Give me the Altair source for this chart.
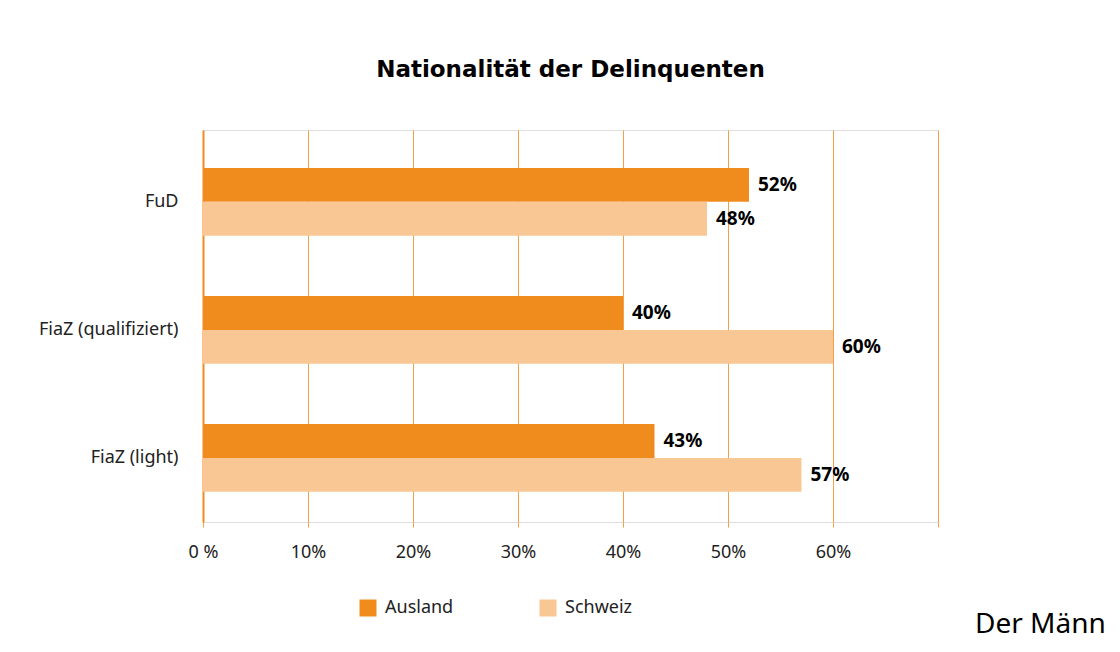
import altair as alt
import pandas as pd

categories = ["FuD", "FiaZ (qualifiziert)", "FiaZ (light)"]
series = ["Ausland", "Schweiz"]
ausland = [52, 40, 43]
schweiz = [48, 60, 57]
tick_values = [0, 10, 20, 30, 40, 50, 60, 70]
tick_labels = ["0 %", "10%", "20%", "30%", "40%", "50%", "60%", ""]
colors = ["#F08C1E", "#F9C794"]
title_text = "Nationalität der Delinquenten"
page_text = ["Der Männ"]

rows = []
for c, a, s in zip(categories, ausland, schweiz):
    rows.append({"Kategorie": c, "Herkunft": series[0], "Anteil": a, "Label": f"{a}%"})
    rows.append({"Kategorie": c, "Herkunft": series[1], "Anteil": s, "Label": f"{s}%"})
df = pd.DataFrame(rows)

label_expr = ""
for v, l in zip(tick_values, tick_labels):
    label_expr += f"datum.value == {v} ? '{l}' : "
label_expr += "''"

FONT = "Noto Sans"
GRID = "#F4A04A"

y_enc = alt.Y(
    "Kategorie:N",
    sort=categories,
    scale=alt.Scale(paddingInner=0.47, paddingOuter=0.266, align=0.557),
    axis=alt.Axis(
        title=None, domain=True, domainColor="#F08C1E", domainWidth=2,
        ticks=False, labelPadding=25, labelFontSize=18, labelFont=FONT,
        labelColor="#222222",
    ),
)
yoff_enc = alt.YOffset("Herkunft:N", sort=series,
                       scale=alt.Scale(paddingInner=0, paddingOuter=0))
x_enc = alt.X(
    "Anteil:Q",
    scale=alt.Scale(domain=[0, 70], nice=False),
    axis=alt.Axis(
        values=tick_values, labelExpr=label_expr, title=None, domain=False,
        grid=True, gridColor=GRID, gridWidth=1, tickColor=GRID, tickSize=5,
        labelPadding=16, labelFontSize=18, labelFont=FONT, labelColor="#222222",
        labelFlush=False,
    ),
)

base = alt.Chart(df)

bars = base.mark_bar().encode(
    x=x_enc,
    y=y_enc,
    yOffset=yoff_enc,
    color=alt.Color(
        "Herkunft:N",
        sort=series,
        scale=alt.Scale(domain=series, range=colors),
        legend=alt.Legend(
            title=None, orient="none", legendX=156, legendY=469,
            direction="horizontal", symbolType="square", symbolSize=289,
            symbolStrokeWidth=0, labelFontSize=18, labelFont=FONT,
            labelColor="#222222", columnPadding=85, labelOffset=8,
        ),
    ),
)

labels = base.mark_text(
    align="left", baseline="middle", dx=9, fontWeight="bold",
    fontSize=19, font=FONT, color="black",
).encode(
    x="Anteil:Q",
    y=alt.Y("Kategorie:N", sort=categories),
    yOffset=alt.YOffset("Herkunft:N", sort=series),
    text="Label:N",
)

page = alt.Chart(pd.DataFrame({"t": page_text})).mark_text(
    align="left", baseline="alphabetic", fontSize=28, font=FONT, color="black",
).encode(x=alt.value(772), y=alt.value(503), text="t:N")

chart = alt.layer(bars, labels, page).properties(
    width=735,
    height=392,
    title=alt.TitleParams(
        title_text, font="DejaVu Sans", fontSize=23, fontWeight="bold",
        color="black", offset=48, anchor="middle", frame="group",
    ),
    autosize=alt.AutoSizeParams(type="none"),
    padding={"left": 195, "top": 122, "right": 174, "bottom": 122},
).configure_view(stroke=None).configure(background="white")

chart.save("out.html", embed_options={"renderer": "svg", "actions": False})
